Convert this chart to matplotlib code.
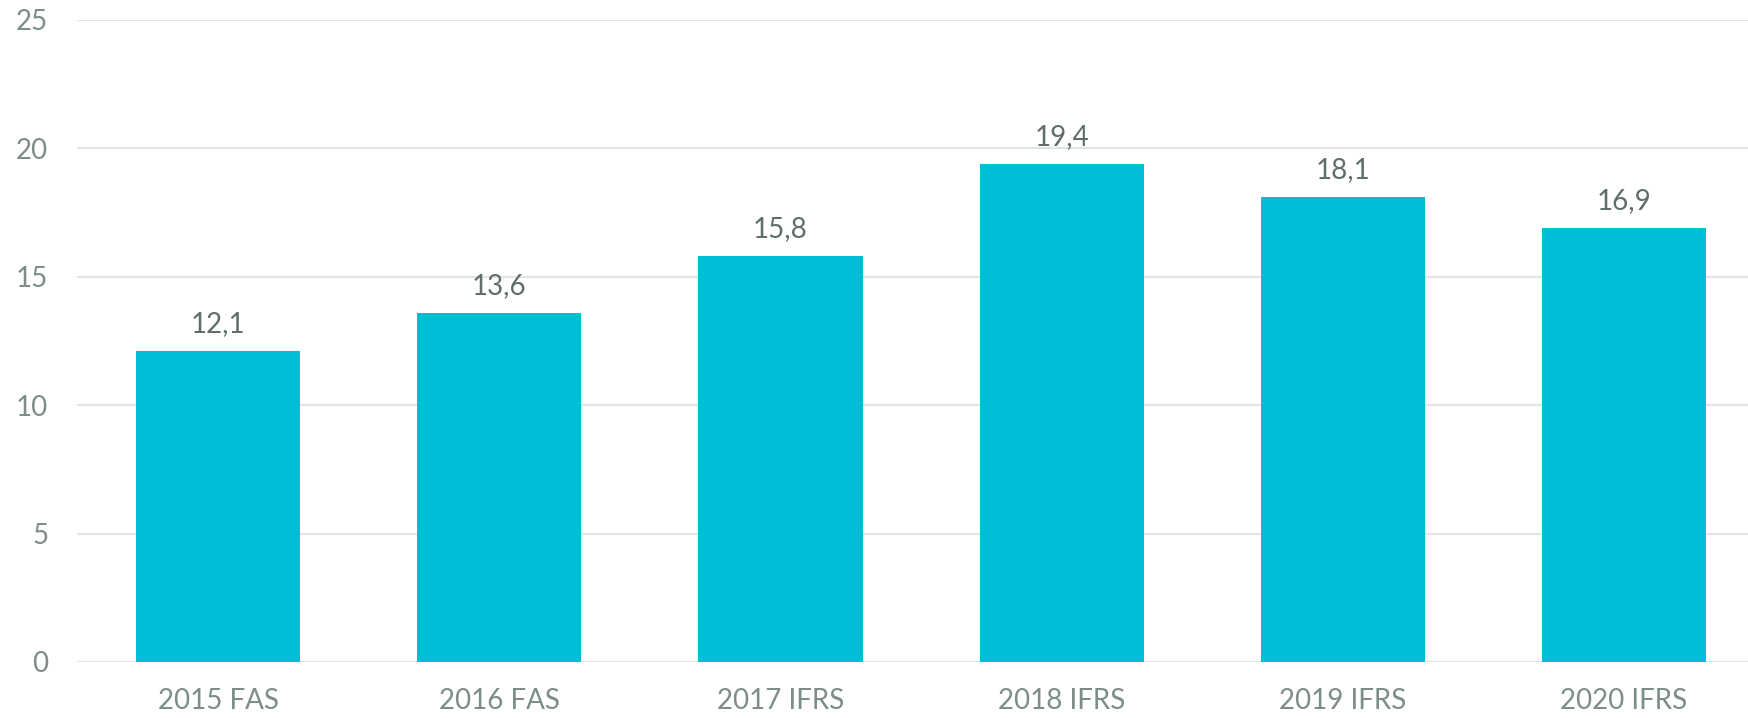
import matplotlib
matplotlib.use("Agg")
import matplotlib.pyplot as plt

# data
categories = ["2015 FAS", "2016 FAS", "2017 IFRS", "2018 IFRS", "2019 IFRS", "2020 IFRS"]
values = [12.1, 13.6, 15.8, 19.4, 18.1, 16.9]
y_ticks = [0, 5, 10, 15, 20, 25]

plt.rcParams['font.family'] = ['Lato', 'DejaVu Sans']

fig = plt.figure(figsize=(17.48, 7.18), dpi=100)
ax = fig.add_axes([0.0443, 0.078, 0.9652, 0.8942])

x = range(len(categories))
ax.bar(x, values, width=0.584, color='#00BED6', zorder=3)

# value labels above bars
for xi, v in zip(x, values):
    ax.annotate(f"{v:.1f}".replace('.', ','), (xi, v), xytext=(0, 10),
                textcoords='offset points', ha='center', va='bottom',
                fontsize=20, color='#5F6E69')

ax.set_xlim(-0.5, len(categories) - 0.5)
ax.set_ylim(0, 25)
ax.set_yticks(y_ticks)
ax.set_xticks(list(x))
ax.set_xticklabels(categories)

ax.grid(axis='y', color='#E1E4E4', linewidth=1.6, zorder=0)
for s in ax.spines.values():
    s.set_visible(False)
ax.tick_params(axis='both', length=0, labelsize=20, labelcolor='#7D8D88')
ax.tick_params(axis='y', pad=21)
ax.tick_params(axis='x', pad=19)

plt.savefig("out.png", dpi=100)
